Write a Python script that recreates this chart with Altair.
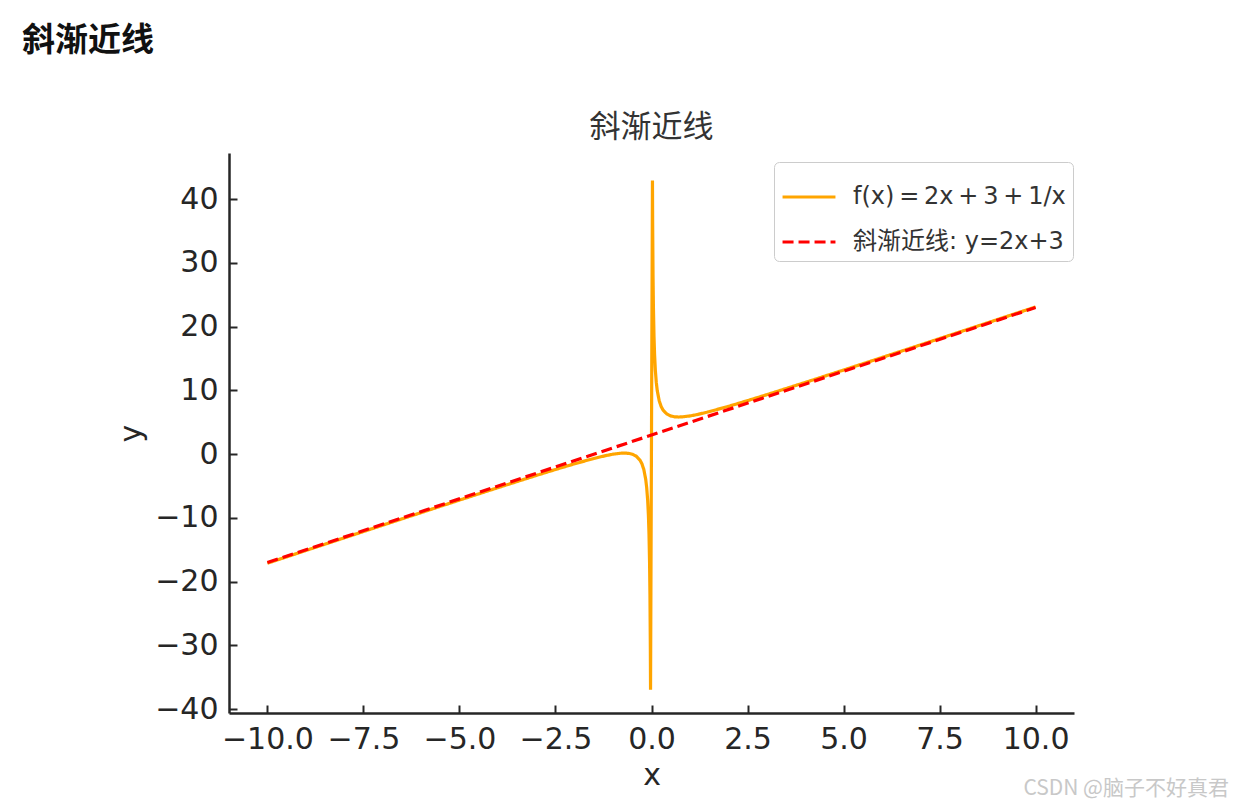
import altair as alt
import pandas as pd

# ---- data ----
x_f = [-10, -9, -8, -7, -6, -5, -4, -3, -2.5, -2, -1.5, -1.2, -1, -0.8, -0.7, -0.6,
       -0.5, -0.4, -0.3, -0.25, -0.2, -0.15, -0.125, -0.1, -0.08, -0.065, -0.05,
       -0.04, -0.03, -0.025,
       0.025, 0.03, 0.04, 0.05, 0.065, 0.08, 0.1, 0.125, 0.15, 0.2, 0.25, 0.3, 0.4,
       0.5, 0.6, 0.7, 0.8, 1, 1.2, 1.5, 2, 2.5, 3, 4, 5, 6, 7, 8, 9, 10]
y_f = [-17.1, -15.111, -13.125, -11.143, -9.167, -7.2, -5.25, -3.333, -2.4, -1.5,
       -0.667, -0.233, 0.0, 0.15, 0.171, 0.133, 0.0, -0.3, -0.933, -1.5, -2.4, -3.967,
       -5.25, -7.2, -9.66, -12.515, -17.1, -22.08, -30.393, -36.95,
       42.95, 36.393, 28.08, 23.1, 18.515, 15.66, 13.2, 11.25, 9.967, 8.4, 7.5, 6.933,
       6.3, 6.0, 5.867, 5.829, 5.85, 6.0, 6.233, 6.667, 7.5, 8.4, 9.333, 11.25, 13.2,
       15.167, 17.143, 19.125, 21.111, 23.1]
x_asym = [-10, 10]
y_asym = [-17, 23]

series = ["f(x)\u2009=\u20092x\u2009+\u20093\u2009+\u20091/x", "斜渐近线: y=2x+3"]
colors = ["#FFA500", "#FF0000"]
dashes = [[1, 0], [11, 5]]

x_ticks = [-10, -7.5, -5, -2.5, 0, 2.5, 5, 7.5, 10]
y_ticks = [-40, -30, -20, -10, 0, 10, 20, 30, 40]
x_domain = [-11, 11]
y_domain = [-40.6, 47.25]

header_text = "斜渐近线"
title_text = "斜渐近线"
watermark_text = "CSDN @脑子不好真君"

W, H = 845, 560
FONT = "DejaVu Sans, Noto Sans CJK SC"
AX = "#262626"

df_f = pd.DataFrame({"x": x_f, "y": y_f, "s": series[0]})
df_a = pd.DataFrame({"x": x_asym, "y": y_asym, "s": series[1]})

legend = alt.Legend(
    title=None, orient="none", legendX=545, legendY=9, padding=7,
    strokeColor="#cccccc", cornerRadius=5, fillColor="white",
    labelFontSize=24, labelFont=FONT, labelColor="#333333", labelLimit=400,
    symbolType="stroke", symbolSize=2800, symbolStrokeWidth=3,
    labelOffset=16, rowPadding=5,
)
color = alt.Color("s:N", scale=alt.Scale(domain=series, range=colors), legend=legend)
dash = alt.StrokeDash("s:N", scale=alt.Scale(domain=series, range=dashes), legend=legend)

xs = alt.Scale(domain=x_domain, nice=False, zero=False)
ys = alt.Scale(domain=y_domain, nice=False, zero=False)

x_main = alt.X("x:Q", scale=xs, axis=alt.Axis(
    orient="bottom", values=x_ticks, format=".1f", ticks=False, grid=False,
    labelFontSize=30, labelFont=FONT, labelColor=AX, labelPadding=11,
    labelOverlap=False, labelFlush=False,
    domainColor=AX, domainWidth=2.5,
    title="x", titleFontSize=30, titleFont=FONT, titleFontWeight="normal",
    titleColor=AX, titlePadding=6))
y_main = alt.Y("y:Q", scale=ys, axis=alt.Axis(
    orient="left", values=y_ticks, format="d", ticks=False, grid=False,
    labelFontSize=30, labelFont=FONT, labelColor=AX, labelPadding=11,
    labelOverlap=False, labelFlush=False,
    domainColor=AX, domainWidth=2.5,
    title="y", titleFontSize=30, titleFont=FONT, titleFontWeight="normal",
    titleColor=AX, titlePadding=8))

# inward ticks: tick-only axes placed on the opposite side and offset into position
x_tick = alt.X("x:Q", scale=xs, axis=alt.Axis(
    orient="top", offset=-H, values=x_ticks, labels=False, domain=False,
    ticks=True, tickSize=8, tickWidth=2, tickColor=AX, grid=False, title=None))
y_tick = alt.Y("y:Q", scale=ys, axis=alt.Axis(
    orient="right", offset=-W, values=y_ticks, labels=False, domain=False,
    ticks=True, tickSize=8, tickWidth=2, tickColor=AX, grid=False, title=None))

line_f = alt.Chart(df_f).mark_line(strokeWidth=3.2).encode(
    x=x_main, y=y_main, color=color, strokeDash=dash)
line_a = alt.Chart(df_a).mark_line(strokeWidth=3.2).encode(
    x=x_tick, y=y_tick, color=color, strokeDash=dash)

header = alt.Chart(pd.DataFrame({"t": [header_text]})).mark_text(
    align="left", baseline="middle", fontSize=33, fontWeight="bold",
    font="Noto Sans CJK SC", color="#111111").encode(
    x=alt.value(-207), y=alt.value(-112), text="t:N")
title = alt.Chart(pd.DataFrame({"t": [title_text]})).mark_text(
    align="center", baseline="middle", fontSize=31,
    font="Noto Sans CJK SC", color="#333333").encode(
    x=alt.value(W / 2), y=alt.value(-25), text="t:N")
mark = alt.Chart(pd.DataFrame({"t": [watermark_text]})).mark_text(
    align="right", baseline="middle", fontSize=21,
    font="Noto Sans CJK SC", color="#c8c8c8").encode(
    x=alt.value(1000), y=alt.value(636), text="t:N")

chart = alt.layer(line_f, line_a, header, title, mark).resolve_axis(
    x="independent", y="independent"
).properties(
    width=W, height=H,
    autosize=alt.AutoSizeParams(type="none"),
    padding={"left": 221, "top": 145, "right": 158, "bottom": 92},
    background="white",
).configure_view(stroke=None)

chart.save("out.html", embed_options={"renderer": "svg", "actions": False})
